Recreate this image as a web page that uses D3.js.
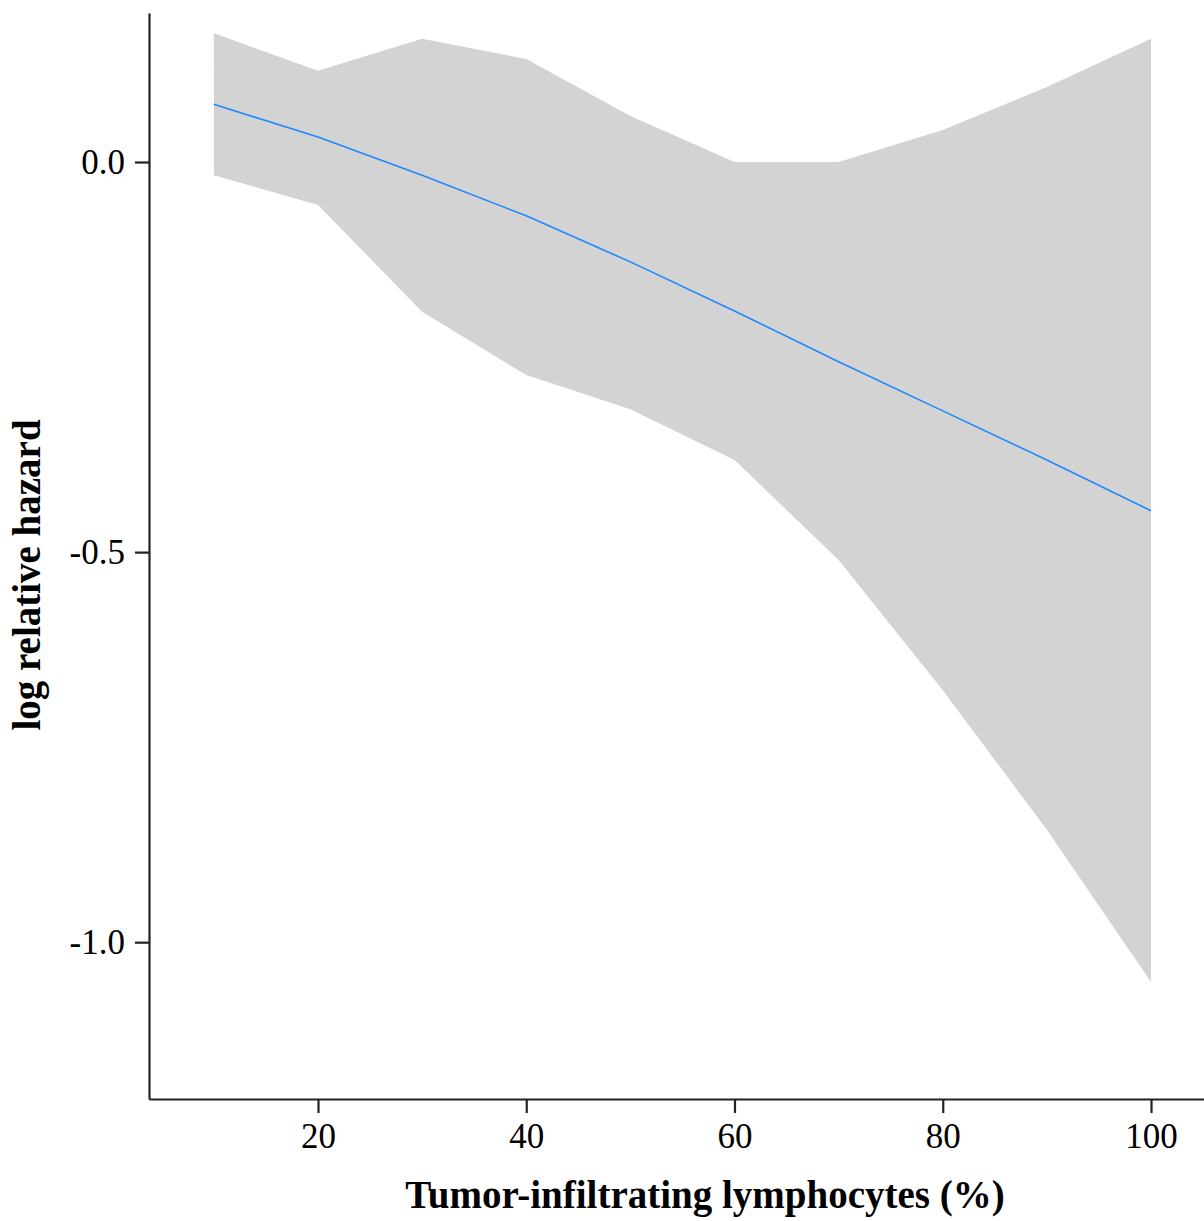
<!DOCTYPE html>
<html>
<head>
<meta charset="utf-8">
<script src="https://cdn.jsdelivr.net/npm/d3@7"></script>
<style>
  body { margin: 0; background: #fff; }
  text { font-family: "Liberation Serif", "Times New Roman", serif; }
</style>
</head>
<body>
<div id="chart"></div>
<script>
// TIL (%) and spline fit, with the confidence band
const tilValues = [10, 20, 30, 40, 50, 60, 70, 80, 90, 100];
const logHazard = [0.074, 0.032, -0.017, -0.069, -0.128, -0.191, -0.256, -0.319, -0.382, -0.447];
const upperCI = [0.165, 0.117, 0.158, 0.132, 0.059, 0.0, 0.0, 0.041, 0.096, 0.158];
const lowerCI = [-0.017, -0.055, -0.192, -0.273, -0.317, -0.382, -0.510, -0.677, -0.856, -1.051];
const xTicks = [20, 40, 60, 80, 100];
const yTicks = [0.0, -0.5, -1.0];

const width = 1204, height = 1221;
const plotLeft = 149, plotRight = 1204, plotTop = 13, plotBottom = 1099;

const svg = d3.select("#chart").append("svg")
  .attr("width", width)
  .attr("height", height);

const x = d3.scaleLinear().domain([3.77, 105.09]).range([plotLeft, plotRight]);
const y = d3.scaleLinear().domain([-1.201, 0.191]).range([plotBottom, plotTop]);

const data = tilValues.map((v, i) => ({ x: v, fit: logHazard[i], hi: upperCI[i], lo: lowerCI[i] }));

// confidence band
const band = d3.area()
  .x(d => x(d.x))
  .y0(d => y(d.lo))
  .y1(d => y(d.hi));
svg.append("path")
  .datum(data)
  .attr("d", band)
  .attr("fill", "#d3d3d3");

// fitted line
const line = d3.line()
  .x(d => x(d.x))
  .y(d => y(d.fit));
svg.append("path")
  .datum(data)
  .attr("d", line)
  .attr("fill", "none")
  .attr("stroke", "#1e88ff")
  .attr("stroke-width", 1.6);

// axes
const xAxis = svg.append("g")
  .attr("transform", `translate(0,${plotBottom})`)
  .call(d3.axisBottom(x).tickValues(xTicks).tickSizeInner(14).tickSizeOuter(0)
    .tickPadding(10).tickFormat(d3.format("d")));
const yAxis = svg.append("g")
  .attr("transform", `translate(${plotLeft},0)`)
  .call(d3.axisLeft(y).tickValues(yTicks).tickSizeInner(14).tickSizeOuter(0)
    .tickPadding(10).tickFormat(d3.format(".1f")));

[xAxis, yAxis].forEach(g => {
  g.attr("font-size", 35).attr("font-family", "Liberation Serif, Times New Roman, serif");
  g.select(".domain").attr("stroke", "#222").attr("stroke-width", 2.2);
  g.selectAll(".tick line").attr("stroke", "#222").attr("stroke-width", 2.2);
  g.selectAll(".tick text").attr("fill", "#000");
});
// d3.format prints a unicode minus; the reference uses a hyphen
yAxis.selectAll(".tick text").text(d => d3.format(".1f")(d).replace("−", "-"));

// axis titles
svg.append("text")
  .attr("x", 705)
  .attr("y", 1208)
  .attr("text-anchor", "middle")
  .attr("font-size", 39)
  .attr("font-weight", "bold")
  .text("Tumor-infiltrating lymphocytes (%)");

svg.append("text")
  .attr("transform", "translate(40,575) rotate(-90)")
  .attr("text-anchor", "middle")
  .attr("font-size", 39)
  .attr("font-weight", "bold")
  .text("log relative hazard");
</script>
</body>
</html>
